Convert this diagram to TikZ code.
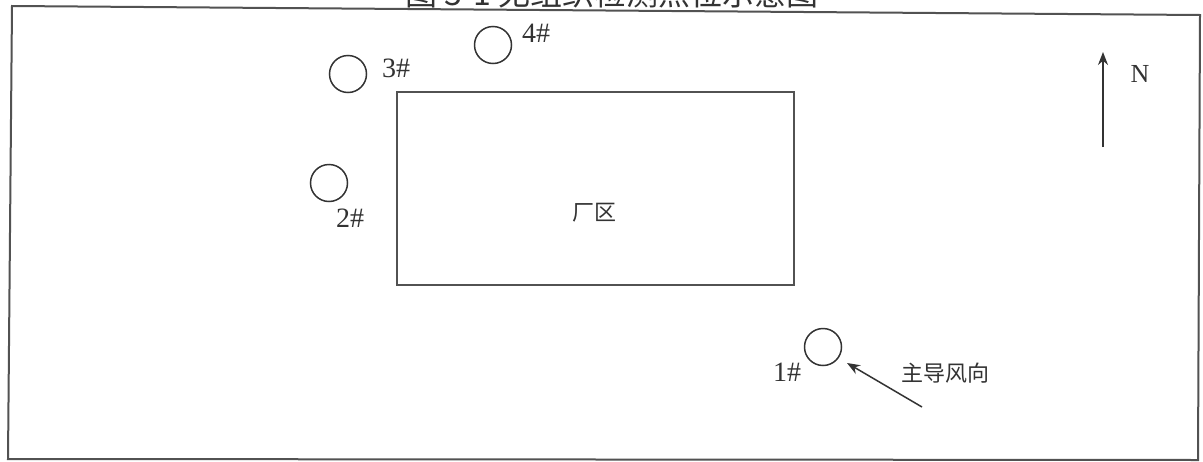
\documentclass[tikz,border=0pt]{standalone}
\usepackage{fontspec}
\setmainfont{Liberation Serif}
\newfontfamily\cjk{Noto Sans CJK SC}
\usetikzlibrary{arrows.meta}
\definecolor{ink}{HTML}{333333}
\tikzset{
  frame/.style={draw=ink!85!white, line width=2pt},
  site/.style={draw=ink, line width=1.5pt, circle, minimum size=37pt, inner sep=0pt},
  lbl/.style={text=ink, font=\fontsize{28}{30}\selectfont, inner sep=0pt},
  cjklbl/.style={text=ink, font=\cjk\fontsize{22}{24}\selectfont, inner sep=0pt},
  arr/.style={draw=ink, line width=1.5pt, -{Stealth[length=13pt,width=10pt]}}
}
\begin{document}
\begin{tikzpicture}[x=1pt,y=-1pt]
\useasboundingbox (0,0) rectangle (1203,461);
\clip (0,0) rectangle (1203,461);
\fill[white] (0,0) rectangle (1203,461);
% title (cut off by page top, as in the reference)
\node[anchor=base, text=ink, font=\cjk\fontsize{32}{34}\selectfont, inner sep=0pt] (title) at (612,5) {图 3-1 无组织检测点位示意图};
% outer frame
\draw[frame] (12,6) -- (1200,15) -- (1198,460) -- (8,459) -- cycle;
% plant area
\node[frame, draw, minimum width=397pt, minimum height=193pt, inner sep=0pt] (plant) at (595.5,188.5) {};
\node[cjklbl] (plantlbl) at (594,213) {厂区};
% monitoring points
\node[site] (p1) at (823,347) {};
\node[lbl] (l1) at (787,372) {1\#};
\node[site] (p2) at (329,183) {};
\node[lbl] (l2) at (350,218) {2\#};
\node[site] (p3) at (348,74) {};
\node[lbl] (l3) at (396,68) {3\#};
\node[site] (p4) at (493,45) {};
\node[lbl] (l4) at (536,33) {4\#};
% prevailing wind
\coordinate (wstart) at (922,407);
\coordinate (wend) at (847,363);
\draw[arr] (wstart) -- (wend);
\node[cjklbl] (wind) at (945,373) {主导风向};
% north arrow
\coordinate (nstart) at (1103,147);
\coordinate (nend) at (1103,52);
\draw[arr] (nstart) -- (nend);
\node[lbl, font=\fontsize{26}{28}\selectfont] (north) at (1140,74) {N};
\end{tikzpicture}
\end{document}
